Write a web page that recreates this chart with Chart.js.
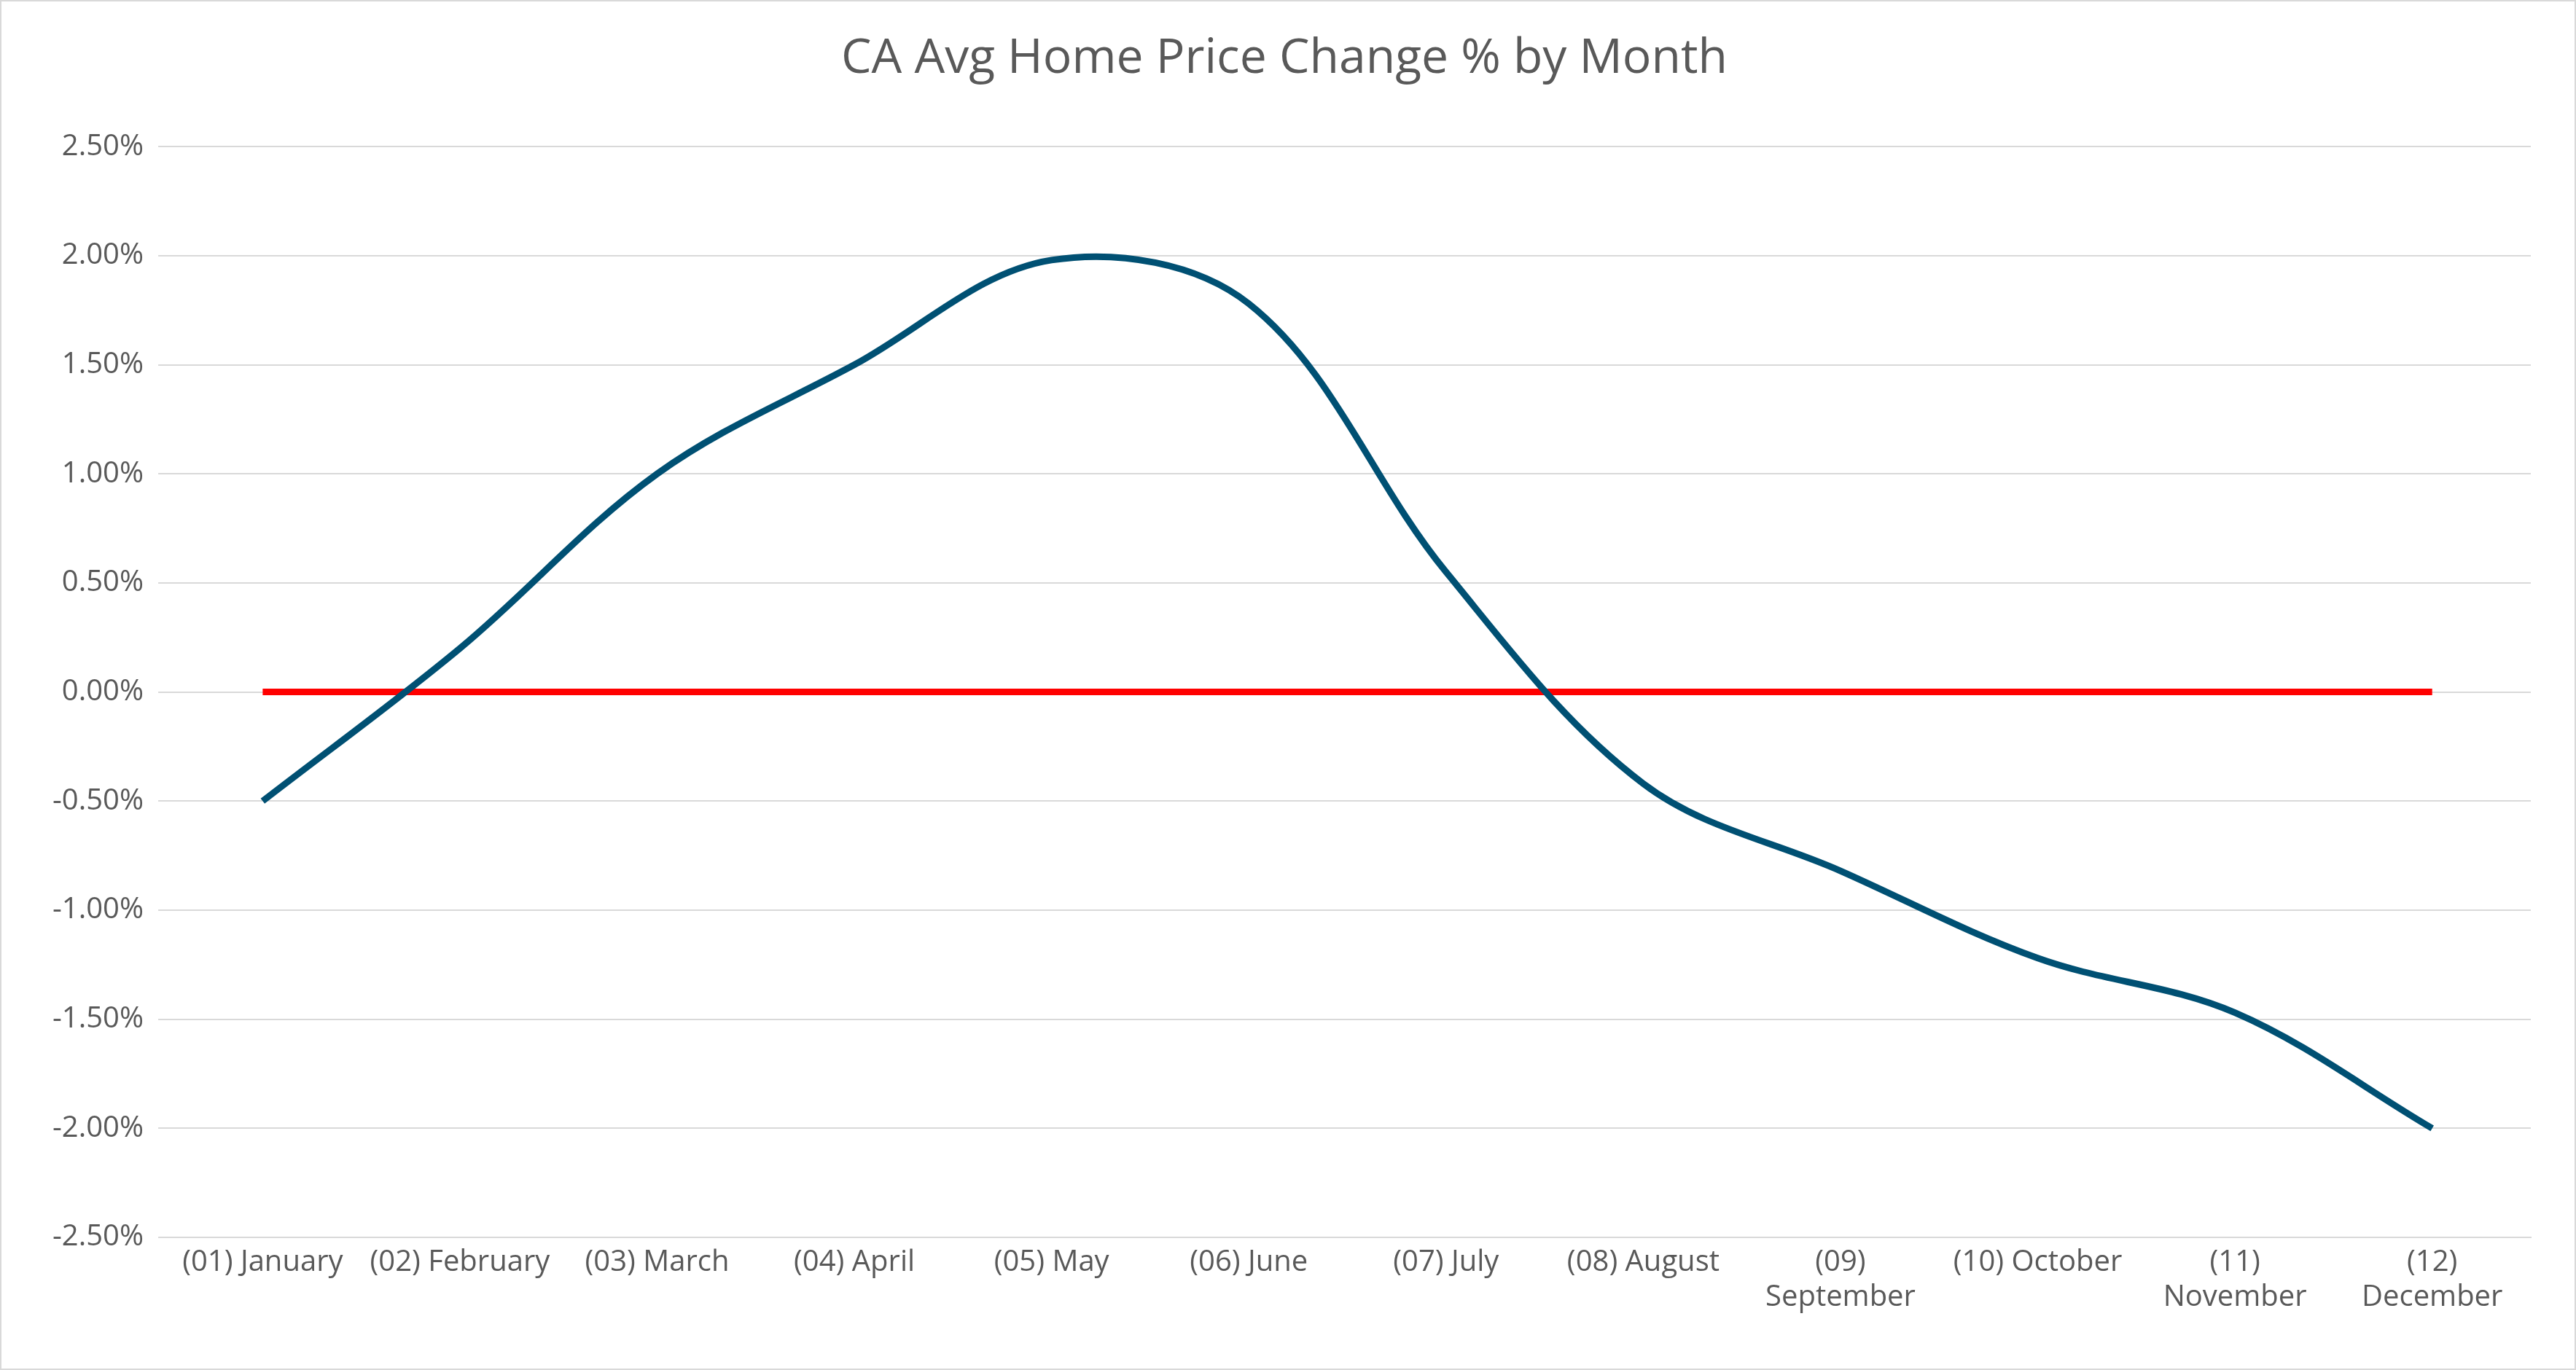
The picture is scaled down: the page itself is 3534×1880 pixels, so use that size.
<!DOCTYPE html>
<html>
<head>
<meta charset="utf-8">
<script src="https://cdn.jsdelivr.net/npm/chart.js@4"></script>
<style>
  html, body { margin: 0; padding: 0; background: #fff; }
  #wrap { position: absolute; left: 0; top: 0; width: 3530px; height: 1876px; border: 2px solid #d9d9d9; }
</style>
</head>
<body>
<div id="wrap"><canvas id="myChart"></canvas></div>
<script>
// Mois (libellés sur deux lignes quand Excel les coupe)
const months = ['(01) January', '(02) February', '(03) March', '(04) April', '(05) May', '(06) June',
  '(07) July', '(08) August', ['(09)', 'September'], '(10) October', ['(11)', 'November'], ['(12)', 'December']];

// Variation moyenne du prix (%)
const priceChange = [-0.5, 0.2, 1.0, 1.5, 1.98, 1.78, 0.55, -0.42, -0.82, -1.22, -1.47, -2.0];

// Ligne de référence à zéro
const zeroLine = [0, 0, 0, 0, 0, 0, 0, 0, 0, 0, 0, 0];

const ctx = document.getElementById('myChart');
new Chart(ctx, {
  type: 'line',
  data: {
    labels: months,
    datasets: [
      {
        data: priceChange,
        borderColor: '#005073',
        borderWidth: 9,
        pointRadius: 0,
        tension: 0.35
      },
      {
        data: zeroLine,
        borderColor: '#ff0000',
        borderWidth: 9,
        pointRadius: 0
      }
    ]
  },
  options: {
    responsive: true,
    maintainAspectRatio: false,
    animation: false,
    layout: { padding: { left: 50, right: 60, top: 20, bottom: 70 } },
    plugins: {
      legend: { display: false },
      tooltip: { enabled: false },
      title: {
        display: true,
        text: 'CA Avg Home Price Change % by Month',
        color: '#595959',
        font: { family: 'Open Sans', size: 66, weight: 'normal' },
        padding: { top: 20, bottom: 80 }
      }
    },
    scales: {
      x: {
        offset: true,
        grid: { display: false },
        border: { color: '#d9d9d9', width: 2 },
        ticks: { color: '#595959', font: { family: 'Open Sans', size: 40 }, maxRotation: 0, autoSkip: false }
      },
      y: {
        min: -2.5,
        max: 2.5,
        grid: { color: '#d9d9d9', lineWidth: 2 },
        border: { display: false },
        ticks: {
          stepSize: 0.5,
          color: '#595959',
          font: { family: 'Open Sans', size: 40 },
          padding: 20,
          callback: (v) => v.toFixed(2) + '%'
        }
      }
    }
  }
});
</script>
</body>
</html>
